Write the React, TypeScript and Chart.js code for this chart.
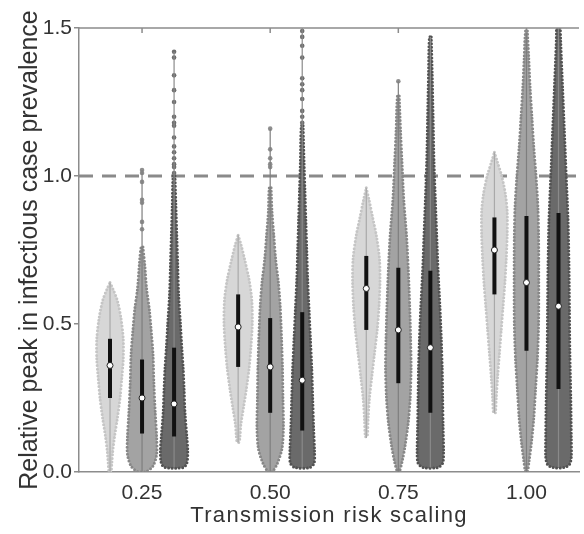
import React, { useEffect, useRef } from 'react';
import { Chart, registerables } from 'chart.js';

Chart.register(...registerables);

// ---------- data ----------
const CATEGORIES = [0.25, 0.5, 0.75, 1.0];
const X_TICK_LABELS = ['0.25', '0.50', '0.75', '1.00'];
const Y_TICKS = [0, 0.5, 1.0, 1.5];
const REFERENCE_LEVEL = 1.0;
const SERIES_NAMES = ['Scenario A', 'Scenario B', 'Scenario C'];

// summary statistics per series, one value per category
const A_MEDIAN = [0.36, 0.49, 0.62, 0.75];
const A_Q1 = [0.25, 0.355, 0.48, 0.6];
const A_Q3 = [0.45, 0.6, 0.73, 0.86];
const A_MIN = [0.0, 0.1, 0.115, 0.2];
const A_MAX = [0.64, 0.8, 0.96, 1.08];

const B_MEDIAN = [0.25, 0.355, 0.48, 0.64];
const B_Q1 = [0.13, 0.2, 0.3, 0.41];
const B_Q3 = [0.38, 0.52, 0.69, 0.865];
const B_MIN = [0.0, 0.0, 0.0, 0.0];
const B_MAX = [1.02, 1.16, 1.32, 1.49];

const C_MEDIAN = [0.23, 0.31, 0.42, 0.56];
const C_Q1 = [0.12, 0.14, 0.2, 0.28];
const C_Q3 = [0.42, 0.54, 0.68, 0.875];
const C_MIN = [0.015, 0.015, 0.015, 0.015];
const C_MAX = [1.42, 1.5, 1.47, 1.55];

// density profiles: [value, relative density]
const A_PROFILE_025 = [[0.64, 0], [0.62, 3], [0.58, 8], [0.52, 12], [0.45, 14.5], [0.38, 14.5], [0.32, 13], [0.25, 11], [0.18, 8], [0.12, 5], [0.07, 3], [0.03, 2], [0.0, 1]];
const A_PROFILE_050 = [[0.8, 0], [0.77, 3], [0.72, 7], [0.65, 12], [0.58, 15], [0.5, 15.5], [0.42, 14], [0.35, 12], [0.28, 9], [0.22, 6], [0.16, 3], [0.12, 2], [0.1, 1]];
const A_PROFILE_075 = [[0.96, 0], [0.92, 3], [0.86, 7], [0.8, 11], [0.72, 14.5], [0.64, 15], [0.56, 14], [0.48, 12], [0.4, 9], [0.32, 6], [0.25, 3.5], [0.18, 2], [0.12, 1]];
const A_PROFILE_100 = [[1.08, 0], [1.05, 3], [1.0, 8], [0.94, 12], [0.88, 14], [0.8, 14], [0.72, 13], [0.64, 11.5], [0.56, 9.5], [0.48, 7.5], [0.4, 5.5], [0.32, 3.5], [0.25, 2], [0.2, 1]];

const B_PROFILE_025 = [[0.76, 1], [0.7, 3], [0.62, 5], [0.55, 8], [0.48, 10], [0.4, 12], [0.3, 13], [0.2, 14.5], [0.12, 16], [0.06, 16], [0.02, 12], [0.0, 4]];
const B_PROFILE_050 = [[0.96, 1], [0.88, 2], [0.8, 4], [0.72, 6], [0.64, 9], [0.56, 11], [0.45, 12.5], [0.35, 13.5], [0.25, 14], [0.15, 14.5], [0.08, 13], [0.03, 8], [0.0, 2]];
const B_PROFILE_075 = [[1.27, 1], [1.15, 2.5], [1.05, 4], [0.92, 6], [0.8, 9], [0.68, 11], [0.56, 12.5], [0.45, 13.5], [0.35, 14], [0.25, 13], [0.17, 11], [0.09, 7.5], [0.04, 4.5], [0.0, 1]];
const B_PROFILE_100 = [[1.49, 1], [1.4, 2.5], [1.3, 4], [1.2, 6], [1.1, 8], [1.0, 10.5], [0.9, 12.5], [0.8, 13.3], [0.65, 13.5], [0.5, 13.3], [0.38, 12], [0.28, 10], [0.18, 8], [0.1, 5.5], [0.04, 3], [0.0, 1]];

const C_PROFILE_025 = [[1.0, 1], [0.9, 2], [0.8, 3], [0.7, 4], [0.6, 5], [0.5, 7], [0.42, 8.5], [0.35, 10], [0.28, 11], [0.2, 12], [0.12, 14], [0.07, 15], [0.03, 14], [0.015, 10]];
const C_PROFILE_050 = [[1.17, 1], [1.05, 2], [0.95, 3], [0.85, 4], [0.75, 5], [0.65, 6], [0.55, 7.5], [0.45, 9], [0.35, 10.5], [0.25, 11.5], [0.15, 12.5], [0.07, 13.5], [0.03, 13], [0.015, 8]];
const C_PROFILE_075 = [[1.47, 1], [1.35, 2], [1.2, 3], [1.05, 4], [0.92, 5.5], [0.8, 7], [0.68, 8.5], [0.56, 10.5], [0.45, 12], [0.35, 13], [0.25, 13.5], [0.15, 14], [0.07, 14.5], [0.03, 13.5], [0.015, 8]];
const C_PROFILE_100 = [[1.55, 1.5], [1.45, 2.5], [1.3, 4.5], [1.15, 6.5], [1.0, 8.5], [0.85, 10.5], [0.7, 11.5], [0.55, 12], [0.4, 12.5], [0.25, 13.5], [0.12, 14], [0.05, 14], [0.025, 12], [0.015, 6]];

// outlying simulated peaks drawn as single dots
const A_OUTLIERS = [[], [], [], []];
const B_OUTLIERS = [
  [1.02, 1.01, 0.98, 0.92, 0.91, 0.845, 0.82],
  [1.16, 1.09, 1.06, 1.04, 1.03],
  [1.32],
  [],
];
const C_OUTLIERS = [
  [1.42, 1.4, 1.34, 1.29, 1.25, 1.2, 1.18, 1.17, 1.13, 1.1, 1.08, 1.06, 1.04, 1.03, 1.01],
  [1.49, 1.47, 1.44, 1.4, 1.33, 1.31, 1.29, 1.26, 1.22, 1.2, 1.18],
  [],
  [],
];

// ---------- layout / style constants ----------
const X_MIN = 0.127;
const X_MAX = 1.1025;
const SERIES_OFFSETS = [-0.0625, 0, 0.0625];
const DENSITY_TO_X = 0.00178;
const FONT = '"Liberation Sans", Arial, Helvetica, sans-serif';
const AXIS_COLOR = '#8c8c8c';
const TEXT_COLOR = '#333333';

const STYLES = [
  { fill: '#d7d7d7', edge: '#c5c5c5', whisker: '#a9a9a9', dot: '#c0c0c0' },
  { fill: '#a3a3a3', edge: '#878787', whisker: '#7e7e7e', dot: '#8f8f8f' },
  { fill: '#6a6a6a', edge: '#525252', whisker: '#8a8a8a', dot: '#6c6c6c' },
];

const SERIES = [
  { median: A_MEDIAN, q1: A_Q1, q3: A_Q3, lo: A_MIN, hi: A_MAX, profiles: [A_PROFILE_025, A_PROFILE_050, A_PROFILE_075, A_PROFILE_100], outliers: A_OUTLIERS },
  { median: B_MEDIAN, q1: B_Q1, q3: B_Q3, lo: B_MIN, hi: B_MAX, profiles: [B_PROFILE_025, B_PROFILE_050, B_PROFILE_075, B_PROFILE_100], outliers: B_OUTLIERS },
  { median: C_MEDIAN, q1: C_Q1, q3: C_Q3, lo: C_MIN, hi: C_MAX, profiles: [C_PROFILE_025, C_PROFILE_050, C_PROFILE_075, C_PROFILE_100], outliers: C_OUTLIERS },
];

function violinPolygon(profile: number[][], cx: number) {
  const right = profile.map(([y, d]) => ({ x: cx + d * DENSITY_TO_X, y }));
  const left = profile.slice().reverse().map(([y, d]) => ({ x: cx - d * DENSITY_TO_X, y }));
  return [...right, ...left, right[0]];
}

function buildDatasets() {
  const ds: any[] = [];
  const medianPts: any[] = [];
  SERIES.forEach((s, si) => {
    const st = STYLES[si];
    CATEGORIES.forEach((cat, ci) => {
      const cx = cat + SERIES_OFFSETS[si];
      ds.push({
        type: 'line',
        label: `${SERIES_NAMES[si]} ${X_TICK_LABELS[ci]}`,
        data: violinPolygon(s.profiles[ci], cx),
        fill: 'shape',
        backgroundColor: st.fill,
        borderColor: st.edge,
        borderWidth: 3,
        borderDash: [0, 3.5],
        borderCapStyle: 'round',
        pointRadius: 0,
        tension: 0.3,
        order: 4,
      });
      ds.push({
        type: 'line',
        label: 'whisker',
        data: [{ x: cx, y: s.lo[ci] }, { x: cx, y: s.hi[ci] }],
        borderColor: st.whisker,
        borderWidth: 1.2,
        pointRadius: 0,
        fill: false,
        order: 2,
      });
      ds.push({
        type: 'line',
        label: 'iqr',
        data: [{ x: cx, y: s.q1[ci] }, { x: cx, y: s.q3[ci] }],
        borderColor: '#111111',
        borderWidth: 4,
        pointRadius: 0,
        fill: false,
        order: 1,
      });
      if (s.outliers[ci].length) {
        ds.push({
          type: 'scatter',
          label: 'outliers',
          data: s.outliers[ci].map((y) => ({ x: cx, y })),
          pointRadius: 2.3,
          backgroundColor: st.dot,
          borderWidth: 0,
          order: 3,
        });
      }
      medianPts.push({ x: cx, y: s.median[ci] });
    });
  });
  ds.push({
    type: 'scatter',
    label: 'median',
    data: medianPts,
    pointRadius: 3,
    backgroundColor: '#ffffff',
    borderColor: '#222222',
    borderWidth: 1,
    order: 0,
  });
  ds.push({
    type: 'line',
    label: 'reference',
    data: [{ x: X_MIN, y: REFERENCE_LEVEL }, { x: X_MAX, y: REFERENCE_LEVEL }],
    borderColor: '#8a8a8a',
    borderWidth: 3,
    borderDash: [14, 9],
    pointRadius: 0,
    fill: false,
    order: 6,
  });
  return ds;
}

const framePlugin = {
  id: 'frameAndTitles',
  afterDraw(chart: any) {
    const { ctx, chartArea, scales } = chart;
    ctx.save();
    ctx.strokeStyle = AXIS_COLOR;
    ctx.lineWidth = 1.5;
    ctx.beginPath();
    ctx.moveTo(chartArea.left, chartArea.top);
    ctx.lineTo(chartArea.right, chartArea.top);
    scales.x.ticks.forEach((t: any) => {
      const px = scales.x.getPixelForValue(t.value);
      ctx.moveTo(px, chartArea.top);
      ctx.lineTo(px, chartArea.top + 5);
    });
    ctx.stroke();

    const xt = chart.options.scales.x.title.text;
    const yt = chart.options.scales.y.title.text;
    ctx.fillStyle = TEXT_COLOR;
    ctx.textBaseline = 'alphabetic';
    ctx.textAlign = 'center';
    ctx.font = `22px ${FONT}`;
    (ctx as any).letterSpacing = '1.3px';
    ctx.fillText(xt, (chartArea.left + chartArea.right) / 2, chart.height - 12);
    (ctx as any).letterSpacing = '0px';
    ctx.font = `25px ${FONT}`;
    ctx.translate(37, (chartArea.top + chartArea.bottom) / 2);
    ctx.rotate(-Math.PI / 2);
    ctx.fillText(yt, 0, 0);
    ctx.restore();
  },
};

export default function App() {
  const ref = useRef<HTMLCanvasElement>(null);
  useEffect(() => {
    if (!ref.current) return;
    const chart = new Chart(ref.current, {
      type: 'line',
      data: { datasets: buildDatasets() },
      options: {
        animation: false,
        responsive: true,
        maintainAspectRatio: false,
        layout: { padding: { top: 28, right: 0, bottom: 0, left: 0 } },
        plugins: { legend: { display: false }, tooltip: { enabled: false } },
        scales: {
          x: {
            type: 'linear',
            min: X_MIN,
            max: X_MAX,
            afterBuildTicks: (sc: any) => { sc.ticks = CATEGORIES.map((v) => ({ value: v })); },
            afterFit: (sc: any) => { sc.height = 62; },
            ticks: {
              callback: (_v: any, i: number) => X_TICK_LABELS[i],
              font: { size: 21, family: FONT },
              color: TEXT_COLOR,
              padding: 9,
              maxRotation: 0,
              autoSkip: false,
            },
            grid: { display: false, drawTicks: false },
            border: { display: true, color: AXIS_COLOR, width: 1.5 },
            title: { display: false, text: 'Transmission risk scaling' },
          },
          y: {
            type: 'linear',
            min: 0,
            max: 1.5,
            afterBuildTicks: (sc: any) => { sc.ticks = Y_TICKS.map((v) => ({ value: v })); },
            afterFit: (sc: any) => { sc.width = 79; },
            ticks: {
              callback: (v: any) => Number(v).toFixed(1),
              font: { size: 21, family: FONT },
              color: TEXT_COLOR,
              padding: 2,
            },
            grid: { display: true, drawOnChartArea: false, drawTicks: true, tickLength: 5, color: AXIS_COLOR, lineWidth: 1.5 },
            border: { display: true, color: AXIS_COLOR, width: 1.5 },
            title: { display: false, text: 'Relative peak in infectious case prevalence' },
          },
        },
      },
      plugins: [framePlugin],
    });
    return () => chart.destroy();
  }, []);
  return (
    <div style={{ position: 'absolute', left: 0, top: 0, width: 584, height: 534 }}>
      <canvas ref={ref} />
    </div>
  );
}
